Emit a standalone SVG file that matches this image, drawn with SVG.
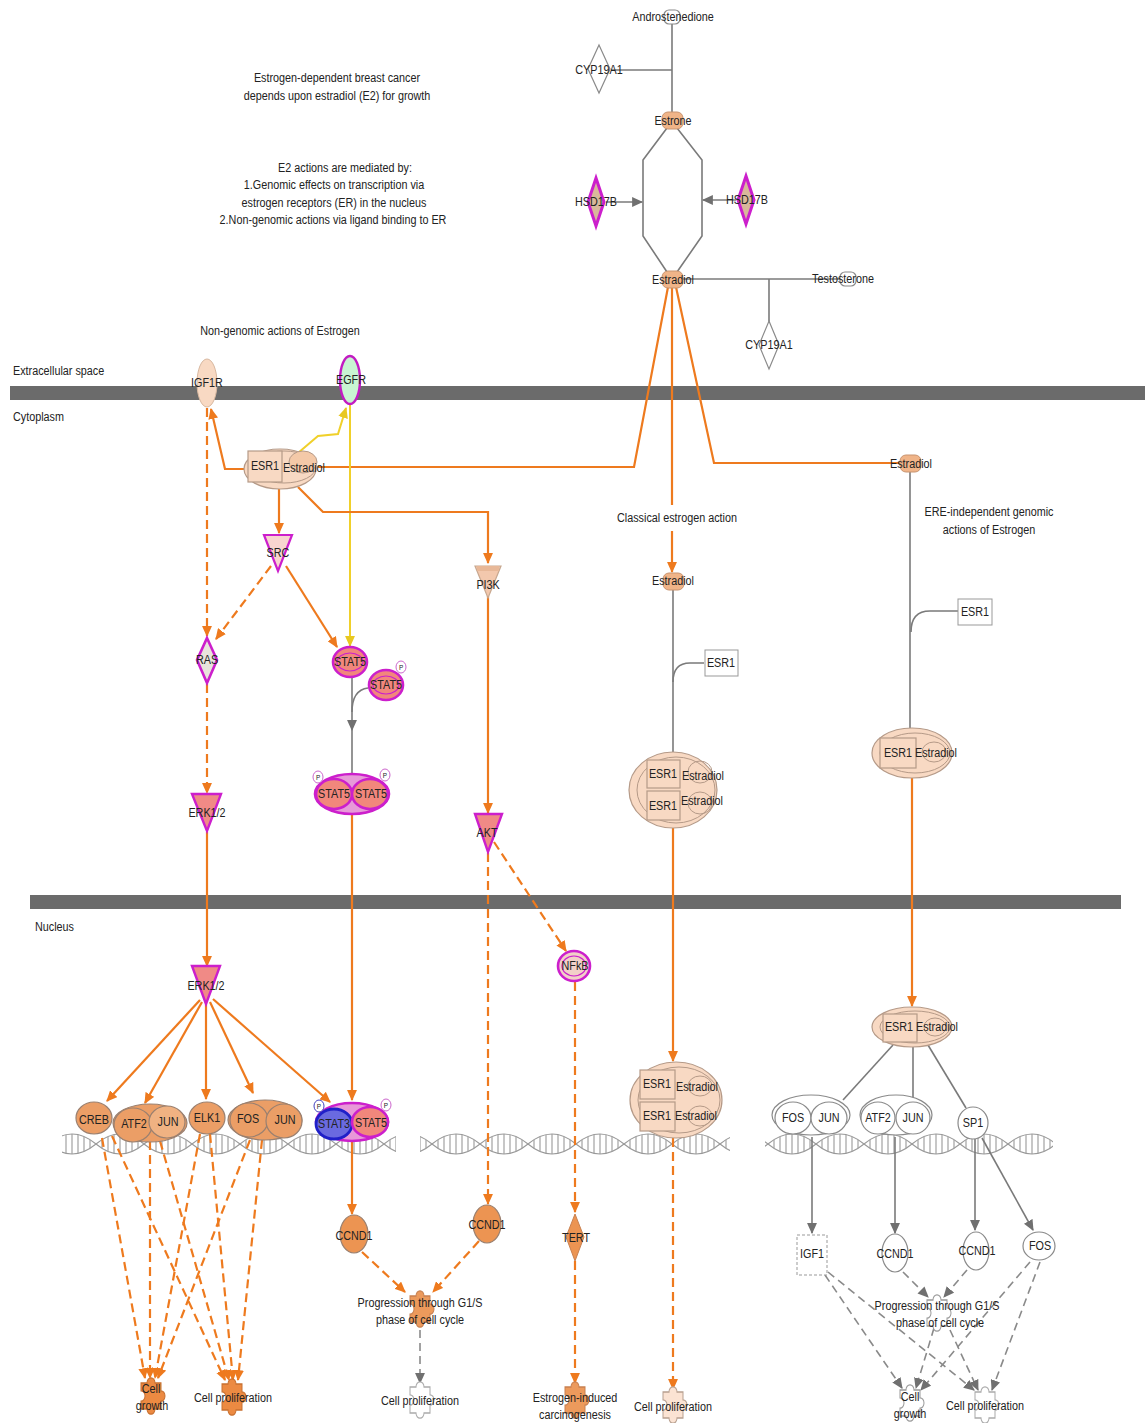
<svg xmlns="http://www.w3.org/2000/svg" width="1145" height="1423" viewBox="0 0 1145 1423">
<defs>
<style>
text{font-family:"Liberation Sans",Arial,sans-serif;font-size:13.5px;fill:#222;text-anchor:middle;dominant-baseline:central;transform-box:fill-box;transform-origin:center;transform:scaleX(0.8)}
.lab{text-anchor:start;transform-origin:left center}
.or{stroke:#ee7a1e;stroke-width:2.2;fill:none}
.ord{stroke:#ee7a1e;stroke-width:2.2;fill:none;stroke-dasharray:9 5}
.gr{stroke:#7a7a7a;stroke-width:1.6;fill:none}
.grd{stroke:#8a8a8a;stroke-width:1.6;fill:none;stroke-dasharray:8 5}
.ye{stroke:#f0d02a;stroke-width:2;fill:none}
.mem{fill:#6b6b6b}
.pe{fill:#f8d9c3;stroke:#b59a88;stroke-width:1.2}
.pe2{fill:none;stroke:#b59a88;stroke-width:1}
.ob{fill:#eb9e66;stroke:#9a8070;stroke-width:1.2}
.sm{fill:#f0b488;stroke:#c89470;stroke-width:1}
.mag{fill:#f1877c;stroke:#cc1fcc;stroke-width:2.6}
.magi{fill:none;stroke:#cc1fcc;stroke-width:1.2}
.wh{fill:#fff;stroke:#8a8a8a;stroke-width:1.2}
.p{font-size:8px}
</style>
<marker id="aO" viewBox="0 0 10 9" refX="9" refY="4.5" markerWidth="11" markerHeight="10" markerUnits="userSpaceOnUse" orient="auto"><path d="M0,0 L10,4.5 L0,9 z" fill="#ee7a1e"/></marker>
<marker id="aG" viewBox="0 0 10 9" refX="9" refY="4.5" markerWidth="11" markerHeight="10" markerUnits="userSpaceOnUse" orient="auto"><path d="M0,0 L10,4.5 L0,9 z" fill="#707070"/></marker>
<marker id="aY" viewBox="0 0 10 9" refX="9" refY="4.5" markerWidth="11" markerHeight="10" markerUnits="userSpaceOnUse" orient="auto"><path d="M0,0 L10,4.5 L0,9 z" fill="#e8c820"/></marker>
<path id="pzl" d="M-10,-10 H-4 A4,4 0 1 1 4,-10 H10 V-4 A4,4 0 1 1 10,4 V10 H4 A4,4 0 1 1 -4,10 H-10 V4 A4,4 0 1 0 -10,-4 Z"/>
<pattern id="dna" patternUnits="userSpaceOnUse" x="0" y="1132" width="96" height="24">
<g fill="none" stroke="#999" stroke-width="1.1">
<path d="M0,12 Q24,-8 48,12 Q72,32 96,12"/>
<path d="M0,12 Q24,32 48,12 Q72,-8 96,12"/>
<path d="M6,8 V16 M12,5 V19 M18,3 V21 M24,2 V22 M30,3 V21 M36,5 V19 M42,8 V16 M54,8 V16 M60,5 V19 M66,3 V21 M72,2 V22 M78,3 V21 M84,5 V19 M90,8 V16"/>
</g>
</pattern>
</defs>
<rect width="1145" height="1423" fill="#fff"/>

<g id="membranes">
<rect class="mem" x="10" y="386" width="1135" height="14"/>
<rect class="mem" x="30" y="895" width="1091" height="14"/>
<rect x="62" y="1132" width="334" height="24" fill="url(#dna)"/>
<rect x="420" y="1132" width="310" height="24" fill="url(#dna)"/>
<rect x="765" y="1132" width="288" height="24" fill="url(#dna)"/>
</g>

<g id="labels">
<text class="lab" x="13" y="371">Extracellular space</text>
<text class="lab" x="13" y="417">Cytoplasm</text>
<text class="lab" x="35" y="927">Nucleus</text>
<text x="280" y="331">Non-genomic actions of Estrogen</text>
<text x="337" y="78">Estrogen-dependent breast cancer</text>
<text x="337" y="96">depends upon estradiol (E2) for growth</text>
<text x="345" y="168">E2 actions are mediated by:</text>
<text x="334" y="185">1.Genomic effects on transcription via</text>
<text x="334" y="203">estrogen receptors (ER) in the nucleus</text>
<text x="333" y="220">2.Non-genomic actions via ligand binding to ER</text>
<text x="677" y="518">Classical estrogen action</text>
<text x="989" y="512">ERE-independent genomic</text>
<text x="989" y="530">actions of Estrogen</text>
</g>

<g id="connectors">
<path class="gr" d="M672,24 L672,112"/>
<path class="gr" d="M611,70 L672,70"/>
<path class="gr" d="M667,128 L643,160 L643,236 L667,272"/>
<path class="gr" d="M677,128 L702,160 L702,236 L677,272"/>
<path class="gr" d="M606,202 L642,202" marker-end="url(#aG)"/>
<path class="gr" d="M736,200 L703,200" marker-end="url(#aG)"/>
<path class="gr" d="M683,279 L840,279"/>
<path class="gr" d="M769,279 L769,322"/>
<path class="or" d="M668,287 L634,467 L318,467"/>
<path class="or" d="M672,287 L672,505"/>
<path class="or" d="M672,531 L672,572" marker-end="url(#aO)"/>
<path class="or" d="M676,287 L714,463 L900,463"/>
<path class="gr" d="M910,471 L910,728"/>
<path class="gr" d="M958,611 L930,611 Q911,611 911,632"/>
<path class="gr" d="M673,590 L673,752"/>
<path class="gr" d="M704,663 L690,663 Q673,663 673,682"/>
<path class="or" d="M246,469 L225,469 L211,409" marker-end="url(#aO)"/>
<path class="ye" d="M298,453 L318,436 L338,434 L346,408" marker-end="url(#aY)"/>
<path class="ye" d="M350,405 L350,646" marker-end="url(#aY)"/>
<path class="or" d="M279,489 L279,533" marker-end="url(#aO)"/>
<path class="or" d="M298,487 L323,512 L488,512 L488,563" marker-end="url(#aO)"/>
<path class="or" d="M286,566 L337,647" marker-end="url(#aO)"/>
<path class="ord" d="M207,408 L207,636" marker-end="url(#aO)"/>
<path class="ord" d="M271,566 L216,639" marker-end="url(#aO)"/>
<path class="ord" d="M207,684 L207,793" marker-end="url(#aO)"/>
<path class="or" d="M488,596 L488,813" marker-end="url(#aO)"/>
<path class="gr" d="M352,678 L352,730" marker-end="url(#aG)"/>
<path class="gr" d="M352,730 L352,773"/>
<path class="gr" d="M368,688 Q352,690 352,712"/>
<path class="or" d="M207,832 L207,966" marker-end="url(#aO)"/>
<path class="or" d="M352,813 L352,1100" marker-end="url(#aO)"/>
<path class="ord" d="M488,853 L488,1204" marker-end="url(#aO)"/>
<path class="ord" d="M494,842 L566,951" marker-end="url(#aO)"/>
<path class="ord" d="M575,982 L575,1212" marker-end="url(#aO)"/>
<path class="ord" d="M575,1261 L575,1383" marker-end="url(#aO)"/>
<path class="or" d="M673,828 L673,1061" marker-end="url(#aO)"/>
<path class="ord" d="M673,1138 L673,1389" marker-end="url(#aO)"/>
<path class="or" d="M912,778 L912,1006" marker-end="url(#aO)"/>
<path class="or" d="M200,1000 L107,1101" marker-end="url(#aO)"/>
<path class="or" d="M202,1002 L145,1103" marker-end="url(#aO)"/>
<path class="or" d="M206,1003 L206,1099" marker-end="url(#aO)"/>
<path class="or" d="M210,1002 L253,1093" marker-end="url(#aO)"/>
<path class="or" d="M213,999 L330,1102" marker-end="url(#aO)"/>
<path class="or" d="M352,1142 L352,1214" marker-end="url(#aO)"/>
<path class="ord" d="M102,1138 L145,1378" marker-end="url(#aO)"/>
<path class="ord" d="M112,1136 L225,1380" marker-end="url(#aO)"/>
<path class="ord" d="M150,1141 L150,1378" marker-end="url(#aO)"/>
<path class="ord" d="M160,1141 L229,1380" marker-end="url(#aO)"/>
<path class="ord" d="M200,1134 L155,1378" marker-end="url(#aO)"/>
<path class="ord" d="M210,1134 L233,1380" marker-end="url(#aO)"/>
<path class="ord" d="M250,1140 L158,1378" marker-end="url(#aO)"/>
<path class="ord" d="M262,1140 L238,1380" marker-end="url(#aO)"/>
<path class="ord" d="M362,1252 L405,1292" marker-end="url(#aO)"/>
<path class="ord" d="M479,1241 L433,1292" marker-end="url(#aO)"/>
<path class="grd" d="M420,1330 L420,1383" marker-end="url(#aG)"/>
<path class="gr" d="M893,1045 L843,1100"/>
<path class="gr" d="M913,1047 L913,1100"/>
<path class="gr" d="M928,1045 L966,1108"/>
<path class="gr" d="M812,1137 L812,1233" marker-end="url(#aG)"/>
<path class="gr" d="M895,1137 L895,1233" marker-end="url(#aG)"/>
<path class="gr" d="M975,1139 L975,1230" marker-end="url(#aG)"/>
<path class="gr" d="M982,1138 L1033,1230" marker-end="url(#aG)"/>
<path class="grd" d="M903,1272 L928,1297" marker-end="url(#aG)"/>
<path class="grd" d="M967,1270 L944,1297" marker-end="url(#aG)"/>
<path class="grd" d="M825,1275 L902,1388" marker-end="url(#aG)"/>
<path class="grd" d="M828,1272 L974,1390" marker-end="url(#aG)"/>
<path class="grd" d="M934,1328 L916,1388" marker-end="url(#aG)"/>
<path class="grd" d="M950,1330 L978,1390" marker-end="url(#aG)"/>
<path class="grd" d="M1030,1262 L921,1390" marker-end="url(#aG)"/>
<path class="grd" d="M1040,1262 L992,1390" marker-end="url(#aG)"/>
</g>

<g id="androstenedione"><rect class="wh" x="664" y="10" width="16" height="14" rx="5"/><text x="673" y="17">Androstenedione</text></g>
<g id="cyp19a1-top"><path class="wh" d="M599,45 L610,69 L599,93 L588,69 Z"/><text x="599" y="70">CYP19A1</text></g>
<g id="estrone"><rect class="sm" x="662" y="112" width="21" height="17" rx="6"/><text x="673" y="121">Estrone</text></g>
<g id="hsd17b-left"><path d="M596,178 L604,202 L596,226 L588,202 Z" fill="#d9b89a" stroke="#cc1fcc" stroke-width="3"/><text x="596" y="202">HSD17B</text></g>
<g id="hsd17b-right"><path d="M746,176 L754,200 L746,224 L738,200 Z" fill="#d9b89a" stroke="#cc1fcc" stroke-width="3"/><text x="747" y="200">HSD17B</text></g>
<g id="estradiol-top"><rect class="sm" x="662" y="271" width="21" height="17" rx="6"/><text x="673" y="280">Estradiol</text></g>
<g id="testosterone"><rect class="wh" x="840" y="272" width="16" height="14" rx="5"/><text x="843" y="279">Testosterone</text></g>
<g id="cyp19a1-bottom"><path class="wh" d="M769,321 L779,345 L769,369 L759,345 Z"/><text x="769" y="345">CYP19A1</text></g>

<g id="igf1r"><ellipse cx="207" cy="383" rx="10" ry="24" fill="#f8d9c3" stroke="#d8b8a0"/><text x="207" y="383">IGF1R</text></g>
<g id="egfr"><ellipse cx="350" cy="380" rx="10" ry="24" fill="#c8f5d2" stroke="#c21cc2" stroke-width="2.4"/><text x="351" y="380">EGFR</text></g>

<g id="esr1-estradiol-cyto">
<ellipse class="pe" cx="280" cy="469" rx="36" ry="20"/>
<ellipse class="pe2" cx="284" cy="467" rx="32" ry="16"/>
<ellipse class="pe2" cx="303" cy="462" rx="14" ry="11" style="fill:#f4c9a8"/>
<rect class="pe" x="248" y="451" width="34" height="31"/>
<text x="265" y="466">ESR1</text><text x="304" y="468">Estradiol</text>
</g>
<g id="src"><path d="M264,535 L292,535 L278,571 Z" fill="#f8d5d0" stroke="#cc1fcc" stroke-width="2.2"/><text x="278" y="553">SRC</text></g>
<g id="pi3k"><path d="M475,566 L501,566 L488,598 Z" fill="#f3c8ad" stroke="#c8a890" stroke-width="1.2"/><rect x="477" y="566" width="22" height="5" fill="#e8b898"/><text x="488" y="585">PI3K</text></g>
<g id="ras"><path d="M207,638 L217,660 L207,683 L197,660 Z" fill="#e9e4dc" stroke="#cc1fcc" stroke-width="2.6"/><text x="207" y="660">RAS</text></g>
<g id="stat5-a"><ellipse class="mag" cx="350" cy="662" rx="17" ry="15"/><ellipse class="magi" cx="350" cy="662" rx="13" ry="9"/><text x="350" y="662">STAT5</text></g>
<g id="stat5-p"><ellipse class="mag" cx="386" cy="685" rx="17" ry="15"/><ellipse class="magi" cx="386" cy="685" rx="13" ry="9"/><text x="386" y="685">STAT5</text>
<ellipse cx="401" cy="667" rx="5" ry="6" fill="#fff" stroke="#cc66cc"/><text class="p" x="401" y="667">P</text></g>
<g id="stat5-dimer">
<ellipse cx="352" cy="794" rx="37" ry="20" fill="#e79ad8" stroke="#cc1fcc" stroke-width="2.6"/>
<ellipse class="mag" cx="334" cy="794" rx="18" ry="15"/><ellipse class="mag" cx="370" cy="794" rx="18" ry="15"/>
<text x="334" y="794">STAT5</text><text x="371" y="794">STAT5</text>
<ellipse cx="318" cy="777" rx="5" ry="6" fill="#fff" stroke="#cc66cc"/><text class="p" x="318" y="777">P</text>
<ellipse cx="385" cy="775" rx="5" ry="6" fill="#fff" stroke="#cc66cc"/><text class="p" x="385" y="775">P</text>
</g>
<g id="erk-cyto"><path d="M192,794 L221,794 L207,831 Z" fill="#f08a86" stroke="#cc1fcc" stroke-width="2.4"/><text x="207" y="813">ERK1/2</text></g>
<g id="akt"><path d="M475,814 L502,814 L488,852 Z" fill="#f08a86" stroke="#cc1fcc" stroke-width="2.4"/><text x="487" y="833">AKT</text></g>

<g id="estradiol-classical"><rect class="sm" x="663" y="573" width="21" height="17" rx="6"/><text x="673" y="581">Estradiol</text></g>
<g id="esr1-classical"><rect x="705" y="650" width="33" height="26" fill="#fff" stroke="#999"/><text x="721" y="663">ESR1</text></g>
<g id="esr1-dimer-cyto">
<ellipse class="pe" cx="673" cy="790" rx="44" ry="38"/>
<ellipse class="pe2" cx="676" cy="790" rx="39" ry="33"/>
<ellipse class="pe2" cx="700" cy="772" rx="12" ry="11"/><ellipse class="pe2" cx="700" cy="803" rx="12" ry="11"/>
<rect class="pe" x="647" y="760" width="33" height="28"/><rect class="pe" x="647" y="791" width="33" height="29"/>
<text x="663" y="774">ESR1</text><text x="703" y="776">Estradiol</text>
<text x="663" y="806">ESR1</text><text x="702" y="801">Estradiol</text>
</g>
<g id="esr1-dimer-nuc">
<ellipse class="pe" cx="676" cy="1100" rx="46" ry="38"/>
<ellipse class="pe2" cx="679" cy="1100" rx="41" ry="33"/>
<ellipse class="pe2" cx="700" cy="1086" rx="12" ry="10"/><ellipse class="pe2" cx="700" cy="1116" rx="12" ry="10"/>
<rect class="pe" x="640" y="1070" width="35" height="29"/><rect class="pe" x="640" y="1102" width="35" height="29"/>
<text x="657" y="1084">ESR1</text><text x="697" y="1087">Estradiol</text>
<text x="657" y="1116">ESR1</text><text x="696" y="1116">Estradiol</text>
</g>
<g id="cell-prolif-classical"><use href="#pzl" transform="translate(673,1405) scale(1,1.3)" fill="#fbe3d3" stroke="#b8a090"/><text x="673" y="1407">Cell proliferation</text></g>

<g id="estradiol-right"><rect class="sm" x="900" y="455" width="21" height="17" rx="6"/><text x="911" y="464">Estradiol</text></g>
<g id="esr1-right"><rect x="958" y="599" width="34" height="26" fill="#fff" stroke="#999"/><text x="975" y="612">ESR1</text></g>
<g id="esr1-estradiol-right">
<ellipse class="pe" cx="912" cy="753" rx="40" ry="25"/>
<ellipse class="pe2" cx="915" cy="753" rx="35" ry="20"/>
<ellipse class="pe2" cx="934" cy="752" rx="12" ry="10"/>
<rect class="pe" x="880" y="738" width="36" height="30"/>
<text x="898" y="753">ESR1</text><text x="936" y="753">Estradiol</text>
</g>
<g id="esr1-estradiol-nuc-right">
<ellipse class="pe" cx="912" cy="1027" rx="40" ry="20"/>
<ellipse class="pe2" cx="915" cy="1027" rx="35" ry="16"/>
<ellipse class="pe2" cx="935" cy="1027" rx="11" ry="9"/>
<rect class="pe" x="883" y="1014" width="34" height="28"/>
<text x="899" y="1027">ESR1</text><text x="937" y="1027">Estradiol</text>
</g>
<g id="fos-jun-right">
<ellipse class="wh" cx="811" cy="1115" rx="39" ry="20"/>
<ellipse class="wh" cx="793" cy="1118" rx="18" ry="16"/><ellipse class="wh" cx="829" cy="1118" rx="18" ry="16"/>
<text x="793" y="1118">FOS</text><text x="829" y="1118">JUN</text>
</g>
<g id="atf2-jun-right">
<ellipse class="wh" cx="896" cy="1115" rx="36" ry="20"/>
<ellipse class="wh" cx="878" cy="1118" rx="17" ry="16"/><ellipse class="wh" cx="913" cy="1118" rx="17" ry="16"/>
<text x="878" y="1118">ATF2</text><text x="913" y="1118">JUN</text>
</g>
<g id="sp1"><ellipse class="wh" cx="973" cy="1123" rx="15" ry="16"/><text x="973" y="1123">SP1</text></g>
<g id="igf1"><rect x="797" y="1235" width="30" height="40" fill="#fff" stroke="#999" stroke-dasharray="3 2"/><text x="812" y="1254">IGF1</text></g>
<g id="ccnd1-r1"><ellipse class="wh" cx="895" cy="1253" rx="13" ry="19"/><text x="895" y="1254">CCND1</text></g>
<g id="ccnd1-r2"><ellipse class="wh" cx="976" cy="1251" rx="13" ry="19"/><text x="977" y="1251">CCND1</text></g>
<g id="fos-r"><ellipse class="wh" cx="1039" cy="1246" rx="16" ry="14"/><text x="1040" y="1246">FOS</text></g>
<g id="progression-right"><use href="#pzl" transform="translate(937,1313) scale(1,1.3)" fill="#fff" stroke="#999"/><text x="937" y="1306">Progression through G1/S</text><text x="940" y="1323">phase of cell cycle</text></g>
<g id="cell-growth-right"><use href="#pzl" transform="translate(910,1403) scale(1,1.3)" fill="#fff" stroke="#999"/><text x="910" y="1397">Cell</text><text x="910" y="1414">growth</text></g>
<g id="cell-prolif-right"><use href="#pzl" transform="translate(985,1405) scale(1,1.3)" fill="#fff" stroke="#aaa"/><text x="985" y="1406">Cell proliferation</text></g>

<g id="erk-nuc"><path d="M192,966 L220,966 L206,1004 Z" fill="#f08a86" stroke="#cc1fcc" stroke-width="2.4"/><text x="206" y="986">ERK1/2</text></g>
<g id="creb"><ellipse class="ob" cx="94" cy="1118" rx="18" ry="16"/><text x="94" y="1120">CREB</text></g>
<g id="atf2-jun">
<ellipse class="ob" cx="150" cy="1123" rx="37" ry="19"/>
<ellipse class="ob" cx="133" cy="1125" rx="19" ry="17"/><ellipse class="ob" cx="167" cy="1122" rx="18" ry="16" style="fill:#f0b282"/>
<text x="134" y="1124">ATF2</text><text x="168" y="1122">JUN</text>
</g>
<g id="elk1"><ellipse class="ob" cx="207" cy="1118" rx="18" ry="16"/><text x="207" y="1118">ELK1</text></g>
<g id="fos-jun">
<ellipse class="ob" cx="265" cy="1120" rx="37" ry="20"/>
<ellipse class="ob" cx="249" cy="1120" rx="19" ry="17"/><ellipse class="ob" cx="284" cy="1121" rx="18" ry="17"/>
<text x="248" y="1119">FOS</text><text x="285" y="1120">JUN</text>
</g>
<g id="stat-complex">
<ellipse cx="352" cy="1122" rx="36" ry="19" fill="#e898d8" stroke="#cc1fcc" stroke-width="2.6"/>
<ellipse cx="334" cy="1124" rx="18" ry="15" fill="#6a6ae0" stroke="#2020c8" stroke-width="2.8"/>
<ellipse class="mag" cx="370" cy="1122" rx="18" ry="15"/>
<text x="334" y="1124">STAT3</text><text x="371" y="1123">STAT5</text>
<ellipse cx="319" cy="1106" rx="5" ry="6" fill="#fff" stroke="#4040c0"/><text class="p" x="319" y="1106">P</text>
<ellipse cx="386" cy="1105" rx="5" ry="6" fill="#fff" stroke="#cc66cc"/><text class="p" x="386" y="1105">P</text>
</g>
<g id="cell-growth-left"><use href="#pzl" transform="translate(151,1396) scale(1,1.3)" fill="#ec8a42" stroke="#c87030"/><text x="151" y="1389">Cell</text><text x="152" y="1406">growth</text></g>
<g id="cell-prolif-left"><use href="#pzl" transform="translate(232,1397) scale(1,1.3)" fill="#ec8a42" stroke="#c87030"/><text x="233" y="1398">Cell proliferation</text></g>
<g id="ccnd1-a"><ellipse class="ob" cx="354" cy="1234" rx="14" ry="19" style="fill:#ec9452"/><text x="354" y="1236">CCND1</text></g>
<g id="ccnd1-b"><ellipse class="ob" cx="487" cy="1224" rx="14" ry="19" style="fill:#ec9452"/><text x="487" y="1225">CCND1</text></g>
<g id="progression-left"><use href="#pzl" transform="translate(420,1309) scale(1,1.3)" fill="#ec9a5c" stroke="#c88050"/><text x="420" y="1303">Progression through G1/S</text><text x="420" y="1320">phase of cell cycle</text></g>
<g id="cell-prolif-mid"><use href="#pzl" transform="translate(420,1400) scale(1,1.3)" fill="#fff" stroke="#aaa"/><text x="420" y="1401">Cell proliferation</text></g>
<g id="nfkb"><ellipse class="mag" cx="574" cy="966" rx="16" ry="15" style="fill:#f2d0c8"/><ellipse class="magi" cx="574" cy="966" rx="12" ry="10"/><text x="575" y="966">NFkB</text></g>
<g id="tert"><path d="M575,1214 L584,1237 L575,1261 L566,1237 Z" fill="#ec9452" stroke="#c88050"/><text x="576" y="1238">TERT</text></g>
<g id="carcinogenesis"><use href="#pzl" transform="translate(575,1400) scale(1,1.3)" fill="#ec9a5c" stroke="#c88050"/><text x="575" y="1398">Estrogen-induced</text><text x="575" y="1415">carcinogenesis</text></g>
</svg>
